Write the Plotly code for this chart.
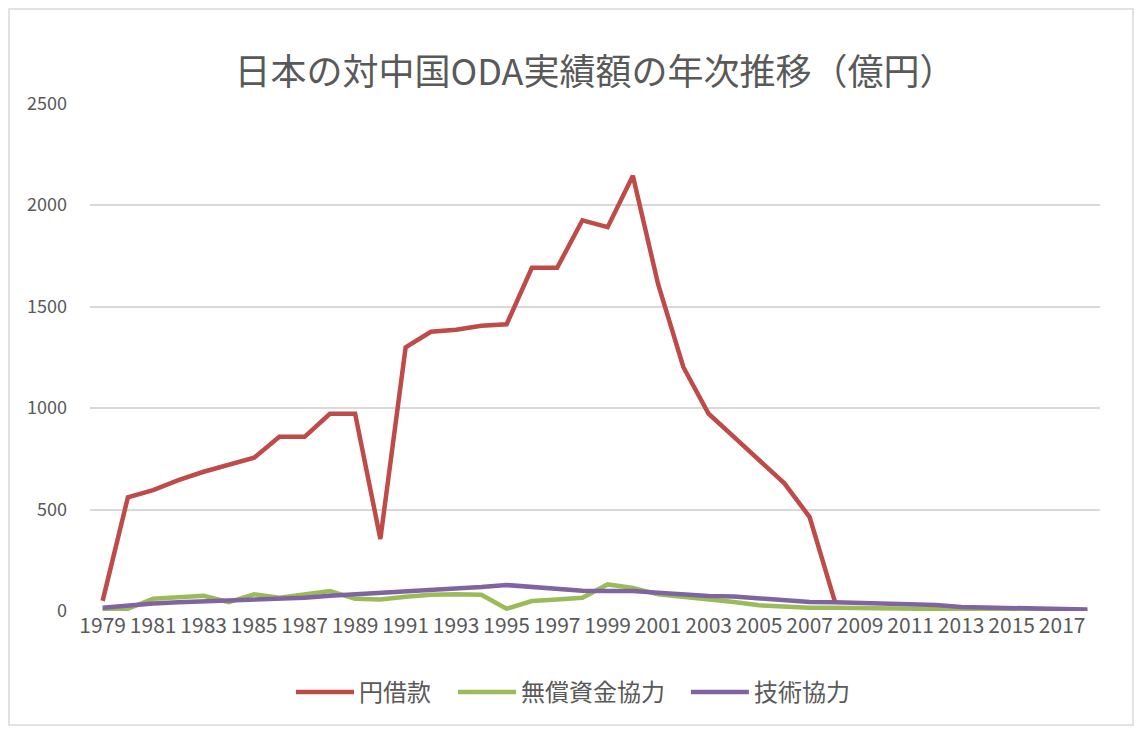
import plotly.graph_objects as go

years = list(range(1979, 2019))

# 円借款 (ends in 2008)
yen_loan = [50, 560, 596, 645, 686, 719, 755, 858, 858, 972, 972, 355,
            1299, 1376, 1386, 1405, 1413, 1691, 1691, 1925, 1891, 2144,
            1610, 1201, 972, 858, 743, 629, 463, 46]

# 無償資金協力
grant_aid = [3, 11, 60, 65, 75, 44, 82, 65, 82, 98, 60, 57,
             70, 80, 82, 80, 11, 49, 57, 65, 131, 114,
             82, 70, 57, 44, 28, 21, 16, 16, 14, 12, 10, 8, 6, 5, 4, 3, 2, 1]

# 技術協力
tech_coop = [16, 27, 37, 43, 47, 52, 55, 57, 65, 75, 82, 86,
             95, 103, 108, 118, 128, 118, 108, 100, 98, 98,
             90, 82, 74, 72, 62, 54, 44, 43, 40, 33, 30, 29, 20, 18, 16, 11, 8, 7]

series = [
    ("円借款", yen_loan, "#BE4B48"),
    ("無償資金協力", grant_aid, "#9BBB59"),
    ("技術協力", tech_coop, "#8064A2"),
]

# one legend per series so the entries can be spaced like the original
legend_ids = ["legend", "legend2", "legend3"]
legend_x = [0.199, 0.3594, 0.590]

fig = go.Figure()
for (name, vals, color), lid in zip(series, legend_ids):
    fig.add_trace(go.Scatter(x=years[:len(vals)], y=vals, name=name, mode="lines",
                             line=dict(color=color, width=4.5), legend=lid))

font_family = "Noto Sans CJK JP"
legend_style = dict(orientation="h", xanchor="left", y=-0.16, yanchor="middle",
                    itemwidth=58, font=dict(size=24, color="#595959"),
                    bgcolor="rgba(0,0,0,0)")

# the page body has an 8px margin, so the figure is sized to fit inside it
fig.update_layout(
    width=1127, height=719,
    margin=dict(l=82, r=35, t=95, b=116),
    paper_bgcolor="white", plot_bgcolor="white",
    font=dict(family=font_family, color="#595959"),
    title=dict(text="日本の対中国ODA実績額の年次推移（億円）", xref="paper", x=0.5,
               xanchor="center", y=0.91, yanchor="middle",
               font=dict(size=36, color="#595959")),
    showlegend=True,
)
for lid, lx in zip(legend_ids, legend_x):
    fig.update_layout({lid: dict(legend_style, x=lx)})

fig.update_xaxes(range=[1978.5, 2018.5], tick0=1979, dtick=2, showgrid=False,
                 showline=False, zeroline=False, ticks="",
                 tickfont=dict(size=21, color="#595959"))
fig.update_yaxes(range=[0, 2503], tickvals=[0, 500, 1000, 1500, 2000, 2500],
                 showgrid=True, gridcolor="#D9D9D9",
                 gridwidth=1.5, zeroline=False, showline=False, ticks="",
                 ticklabelstandoff=22, tickfont=dict(size=18, color="#595959"))

# faint frame around the whole chart area
fig.add_shape(type="rect", xref="paper", yref="paper",
              x0=-81 / 1010, x1=1043 / 1010, y0=-114 / 508, y1=602 / 508,
              line=dict(color="#D9D9D9", width=1.5))

fig.write_html("out.html")
